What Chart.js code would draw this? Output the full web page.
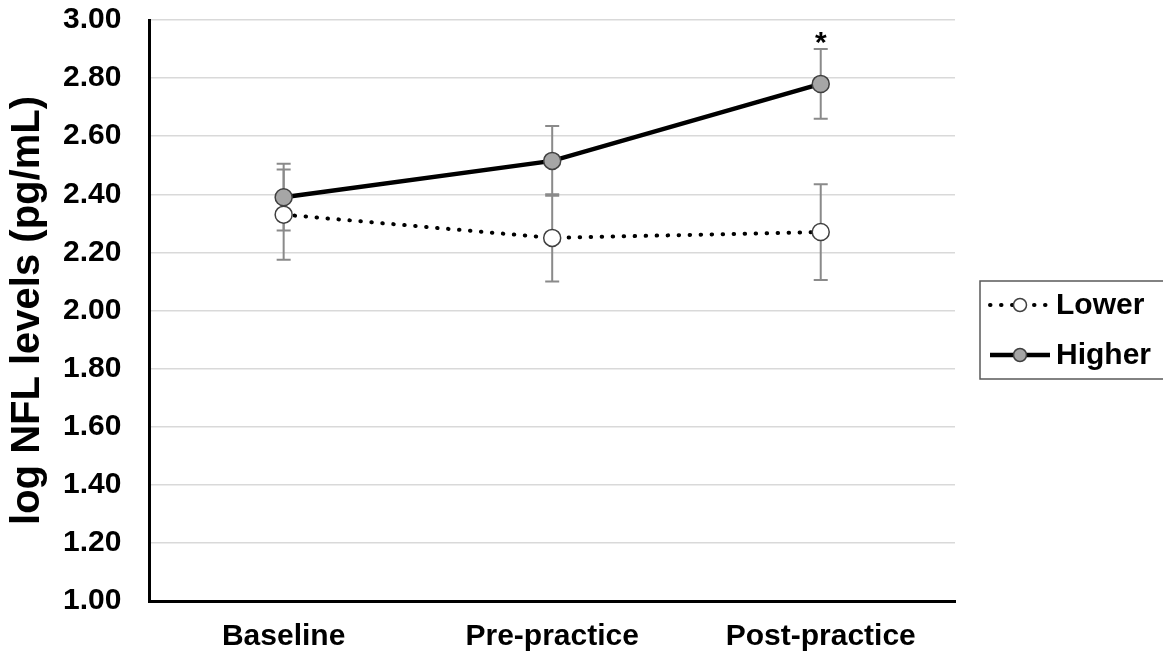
<!DOCTYPE html>
<html>
<head>
<meta charset="utf-8">
<script src="https://cdn.jsdelivr.net/npm/chart.js@4.4.0/dist/chart.umd.min.js"></script>
<style>
  html, body { margin: 0; padding: 0; background: #fff; }
  #wrap { width: 1163px; height: 658px; }
</style>
</head>
<body>
<div id="wrap"><canvas id="nflChart"></canvas></div>
<script>
const timepoints = ['Baseline', 'Pre-practice', 'Post-practice'];
const lowerMeans = [2.33, 2.25, 2.27];
const lowerErr = [0.155, 0.15, 0.165];
const higherMeans = [2.39, 2.515, 2.78];
const higherErr = [0.115, 0.12, 0.12];
const higherSignificant = [false, false, true];
const yMin = 1.0;
const yMax = 3.0;
const yStep = 0.2;

const FONT = "'Liberation Sans', Arial, sans-serif";

// vertical error bars with caps, drawn under the markers
const errorBars = {
  id: 'errorBars',
  beforeDatasetsDraw(chart) {
    const { ctx, scales: { x, y } } = chart;
    ctx.save();
    ctx.strokeStyle = '#8a8a8a';
    ctx.lineWidth = 2;
    chart.data.datasets.forEach((ds) => {
      ds.data.forEach((v, i) => {
        const px = x.getPixelForValue(i);
        const top = y.getPixelForValue(v + ds.errors[i]);
        const bot = y.getPixelForValue(v - ds.errors[i]);
        ctx.beginPath();
        ctx.moveTo(px, top);
        ctx.lineTo(px, bot);
        ctx.moveTo(px - 7, top);
        ctx.lineTo(px + 7, top);
        ctx.moveTo(px - 7, bot);
        ctx.lineTo(px + 7, bot);
        ctx.stroke();
      });
    });
    ctx.restore();
  },
  afterDatasetsDraw(chart) {
    // significance asterisk above the higher group
    const { ctx, scales: { x, y } } = chart;
    const ds = chart.data.datasets[1];
    ctx.save();
    ctx.fillStyle = '#000';
    ctx.font = 'bold 30px ' + FONT;
    ctx.textAlign = 'center';
    ctx.textBaseline = 'alphabetic';
    higherSignificant.forEach((sig, i) => {
      if (!sig) return;
      const px = x.getPixelForValue(i);
      const top = y.getPixelForValue(ds.data[i] + ds.errors[i]);
      ctx.fillText('*', px, top + 3);
    });
    ctx.restore();
  }
};

// boxed legend with line + marker samples
const boxLegend = {
  id: 'boxLegend',
  afterDraw(chart) {
    const { ctx, chartArea } = chart;
    const left = chartArea.right + 25;
    const top = 281;
    ctx.save();
    ctx.strokeStyle = '#595959';
    ctx.lineWidth = 1.5;
    ctx.strokeRect(left, top, 200, 98);

    chart.data.datasets.forEach((ds, i) => {
      const cy = top + 24 + i * 50;
      const x0 = left + 10;
      const x1 = left + 70;
      ctx.strokeStyle = ds.borderColor;
      ctx.lineWidth = ds.borderWidth;
      ctx.lineCap = ds.borderCapStyle || 'butt';
      ctx.setLineDash(ds.borderDash || []);
      ctx.beginPath();
      ctx.moveTo(x0, cy);
      ctx.lineTo(x1, cy);
      ctx.stroke();
      ctx.setLineDash([]);
      ctx.beginPath();
      ctx.arc((x0 + x1) / 2, cy, 6.5, 0, Math.PI * 2);
      ctx.fillStyle = ds.pointBackgroundColor;
      ctx.fill();
      ctx.lineWidth = 1.5;
      ctx.strokeStyle = ds.pointBorderColor;
      ctx.stroke();

      ctx.fillStyle = '#000';
      ctx.font = 'bold 30px ' + FONT;
      ctx.textAlign = 'left';
      ctx.textBaseline = 'middle';
      ctx.fillText(ds.label, x1 + 6, cy + 1);
    });
    ctx.restore();
  }
};

new Chart(document.getElementById('nflChart'), {
  type: 'line',
  data: {
    labels: timepoints,
    datasets: [
      {
        label: 'Lower',
        data: lowerMeans,
        errors: lowerErr,
        borderColor: '#000',
        borderWidth: 4,
        borderDash: [0.5, 10.5],
        borderCapStyle: 'round',
        pointRadius: 8.5,
        pointBorderWidth: 1.5,
        pointBackgroundColor: '#ffffff',
        pointBorderColor: '#404040',
        order: 2,
      },
      {
        label: 'Higher',
        data: higherMeans,
        errors: higherErr,
        borderColor: '#000',
        borderWidth: 4.5,
        pointRadius: 8.5,
        pointBorderWidth: 1.5,
        pointBackgroundColor: '#a6a6a6',
        pointBorderColor: '#404040',
        order: 1,
      },
    ],
  },
  options: {
    responsive: true,
    maintainAspectRatio: false,
    animation: false,
    layout: { padding: { top: 20, right: 208, left: 0, bottom: 3 } },
    plugins: {
      legend: { display: false },
      tooltip: { enabled: false },
    },
    scales: {
      x: {
        offset: true,
        grid: { display: false, drawTicks: true, tickLength: 18, tickColor: 'rgba(0,0,0,0)' },
        border: { display: true, color: '#000', width: 3 },
        ticks: {
          color: '#000',
          padding: 0,
          font: { family: FONT, size: 30, weight: 'bold' },
        },
      },
      y: {
        min: yMin,
        max: yMax,
        grid: { color: '#d9d9d9', lineWidth: 1.5, drawTicks: true, tickLength: 28, tickColor: 'rgba(0,0,0,0)' },
        border: { display: true, color: '#000', width: 3 },
        ticks: {
          stepSize: yStep,
          color: '#000',
          padding: 0,
          font: { family: FONT, size: 30, weight: 'bold' },
          callback: (v) => Number(v).toFixed(2),
        },
        title: {
          display: true,
          text: 'log NFL levels (pg/mL)',
          color: '#000',
          padding: { top: 4, bottom: 11 },
          font: { family: FONT, size: 40, weight: 'bold' },
        },
      },
    },
  },
  plugins: [errorBars, boxLegend],
});
</script>
</body>
</html>
